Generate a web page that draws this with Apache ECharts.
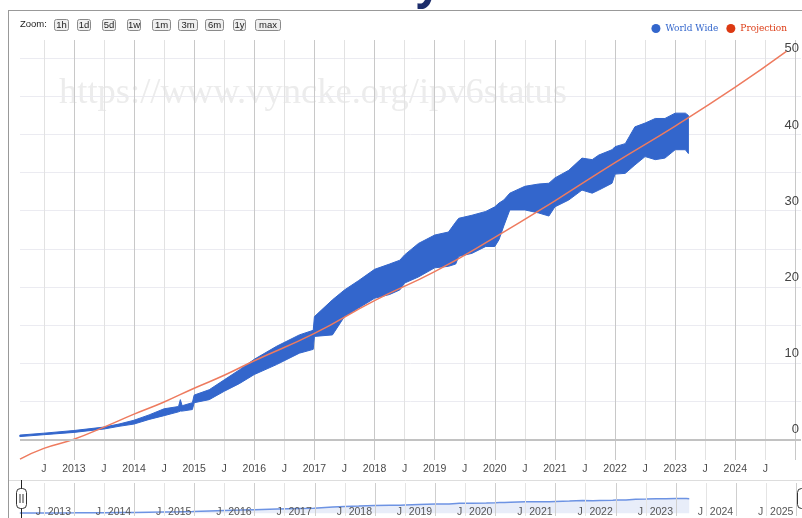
<!DOCTYPE html>
<html><head><meta charset="utf-8">
<script src="https://cdn.jsdelivr.net/npm/echarts@6/dist/echarts.min.js"></script>
<style>html,body{margin:0;padding:0;background:#fff}#c{width:802px;height:518px}</style>
</head><body><div id="c"></div>
<script>
// ---- data ----
const blueYears = [2012.10, 2012.50, 2013.00, 2013.50, 2013.75, 2014.00, 2014.25, 2014.50, 2014.74, 2014.77, 2014.80, 2014.97, 2015.00, 2015.25, 2015.50, 2015.75, 2016.00, 2016.37, 2016.75, 2016.98, 2017.00, 2017.30, 2017.50, 2017.73, 2018.00, 2018.25, 2018.42, 2018.50, 2018.73, 2019.00, 2019.23, 2019.35, 2019.40, 2019.62, 2019.85, 2020.00, 2020.07, 2020.15, 2020.25, 2020.50, 2020.73, 2020.90, 2021.00, 2021.23, 2021.45, 2021.62, 2021.73, 2021.95, 2022.00, 2022.17, 2022.33, 2022.50, 2022.67, 2022.83, 2023.00, 2023.17, 2023.22];
const blueLow = [0.35, 0.6, 0.9, 1.35, 1.7, 2.0, 2.6, 3.1, 3.6, 3.7, 3.7, 3.9, 4.8, 5.2, 6.3, 7.3, 8.5, 9.8, 11.3, 11.8, 13.5, 13.7, 16.1, 17.2, 18.5, 19.0, 19.6, 20.5, 21.3, 22.5, 22.7, 23.0, 24.0, 24.4, 25.3, 25.3, 26.2, 28.0, 30.1, 30.1, 29.7, 29.3, 30.5, 31.4, 32.7, 32.3, 32.7, 33.6, 34.8, 34.9, 36.0, 37.1, 36.7, 36.9, 38.0, 38.0, 37.5];
const blueHigh = [0.55, 0.8, 1.15, 1.6, 2.0, 2.5, 3.2, 4.0, 4.3, 5.2, 4.4, 4.8, 5.8, 6.5, 7.8, 9.1, 10.5, 12.2, 13.7, 14.3, 16.1, 18.3, 19.6, 20.8, 22.3, 23.0, 23.5, 24.2, 25.7, 26.8, 27.2, 28.5, 29.0, 29.4, 29.9, 30.5, 31.0, 31.4, 32.3, 33.2, 33.5, 33.6, 34.3, 35.3, 36.9, 36.7, 37.3, 38.0, 38.4, 38.8, 41.0, 41.5, 42.1, 42.1, 42.8, 42.8, 42.5];
const projYears = [2012.103, 2012.5, 2013, 2013.5, 2014, 2014.5, 2015, 2015.5, 2016, 2017, 2018, 2019, 2020, 2021, 2022, 2023, 2024, 2024.85];
const projValues = [-2.6, -1.2, 0.0, 1.6, 3.3, 4.9, 6.7, 8.4, 10.3, 13.9, 18.2, 22.0, 26.5, 31.3, 36.3, 41.1, 46.2, 50.9];
const yTickValues = [0, 5, 10, 15, 20, 25, 30, 35, 40, 45, 50];
const yLabelValues = [0, 10, 20, 30, 40, 50];
const xTickValues = [2012.5, 2013, 2013.5, 2014, 2014.5, 2015, 2015.5, 2016, 2016.5, 2017, 2017.5, 2018, 2018.5, 2019, 2019.5, 2020, 2020.5, 2021, 2021.5, 2022, 2022.5, 2023, 2023.5, 2024, 2024.5, 2025];
const xLabelValues = [2012.5, 2013, 2013.5, 2014, 2014.5, 2015, 2015.5, 2016, 2016.5, 2017, 2017.5, 2018, 2018.5, 2019, 2019.5, 2020, 2020.5, 2021, 2021.5, 2022, 2022.5, 2023, 2023.5, 2024, 2024.5];
const navLabelValues = [2012.5, 2013, 2013.5, 2014, 2014.5, 2015, 2015.5, 2016, 2016.5, 2017, 2017.5, 2018, 2018.5, 2019, 2019.5, 2020, 2020.5, 2021, 2021.5, 2022, 2022.5, 2023, 2023.5, 2024, 2024.5, 2025];
const seriesNames = ['World Wide', 'Projection'];
const zoomButtons = ['1h', '1d', '5d', '1w', '1m', '3m', '6m', '1y', 'max'];
const zoomLabel = 'Zoom:';
const watermarkText = 'https://www.vyncke.org/ipv6status';
const headingFragment = 'y';

// ---- chart ----
const X_MIN = 2012.103, X_MAX = 2025.093;
const BLUE = '#3366cc', RED = '#dc3912';
const fmtX = v => Math.abs(v - Math.round(v)) < 1e-6 ? String(Math.round(v)) : 'J';

const chart = echarts.init(document.getElementById('c'), null, { renderer: 'canvas' });

const btnX = [54, 77, 102, 127, 152, 178, 205, 233, 255];
const btnW = [14, 13, 13, 13, 18, 19, 18, 12, 25];
const graphics = [
  { type: 'line', shape: { x1: 8, y1: 10.5, x2: 802, y2: 10.5 }, style: { stroke: '#999', lineWidth: 1 } },
  { type: 'line', shape: { x1: 8.5, y1: 10, x2: 8.5, y2: 518 }, style: { stroke: '#999', lineWidth: 1 } },
  { type: 'text', x: 416, y: -15, style: { text: headingFragment, fontSize: 44, fontWeight: 'bold', fontFamily: 'Open Sans', fill: '#1c2d6b', verticalAlign: 'middle' } },
  { type: 'text', x: 59, y: 93, z: -1, style: { text: watermarkText, fontSize: 36.5, fontFamily: 'Liberation Serif', fill: '#ececec', verticalAlign: 'middle' } },
  { type: 'text', x: 20, y: 24.5, style: { text: zoomLabel, fontSize: 9.5, fontFamily: 'Liberation Sans', fill: '#222', verticalAlign: 'middle' } },
  { type: 'line', shape: { x1: 9, y1: 480.5, x2: 802, y2: 480.5 }, style: { stroke: '#ddd', lineWidth: 1 } },
  { type: 'line', shape: { x1: 21.5, y1: 480, x2: 21.5, y2: 518 }, style: { stroke: '#222', lineWidth: 1 }, z: 10 },
  { type: 'rect', shape: { x: 16.5, y: 488.5, width: 10, height: 20, r: 4 }, style: { fill: '#fff', stroke: '#333', lineWidth: 1 }, z: 10 },
  { type: 'line', shape: { x1: 20, y1: 494, x2: 20, y2: 503 }, style: { stroke: '#333', lineWidth: 1 }, z: 11 },
  { type: 'line', shape: { x1: 23, y1: 494, x2: 23, y2: 503 }, style: { stroke: '#333', lineWidth: 1 }, z: 11 },
  { type: 'rect', shape: { x: 797.5, y: 488.5, width: 10, height: 20, r: 4 }, style: { fill: '#fff', stroke: '#333', lineWidth: 1 }, z: 10 }
];
zoomButtons.forEach((b, i) => {
  graphics.push({ type: 'rect', shape: { x: btnX[i] + 0.5, y: 19.5, width: btnW[i], height: 11, r: 2 }, style: { fill: '#efefef', stroke: '#8a8a8a', lineWidth: 1 } });
  graphics.push({ type: 'text', x: btnX[i] + 0.5 + btnW[i] / 2, y: 25.2, style: { text: b, fontSize: 9.5, fontFamily: 'Liberation Sans', fill: '#222', align: 'center', verticalAlign: 'middle' } });
});

const option = {
  animation: false,
  backgroundColor: '#fff',
  legend: {
    right: 10, top: 19, itemWidth: 9, itemHeight: 9, itemGap: 8, icon: 'circle',
    textStyle: { fontFamily: 'DejaVu Serif', fontSize: 9 },
    data: [
      { name: seriesNames[0], itemStyle: { color: BLUE }, textStyle: { color: BLUE } },
      { name: seriesNames[1], itemStyle: { color: RED }, textStyle: { color: RED } }
    ]
  },
  grid: [
    { left: 20, right: 0, top: 40, height: 420 },
    { left: 20, right: 0, top: 483, height: 36 }
  ],
  xAxis: [
    {
      type: 'value', gridIndex: 0, min: X_MIN, max: X_MAX,
      axisLine: { show: false }, axisTick: { show: false, customValues: xTickValues },
      splitLine: { show: true, lineStyle: { color: ['#e2e2e2', '#c8c8c8'], width: 1 } },
      axisLabel: { customValues: xLabelValues, formatter: fmtX, margin: 4, fontSize: 10.5, color: '#4a4a4a', fontFamily: 'Liberation Sans' }
    },
    {
      type: 'value', gridIndex: 1, min: X_MIN, max: X_MAX, z: 5,
      axisLine: { show: false }, axisTick: { show: false, customValues: xTickValues },
      splitLine: { show: true, lineStyle: { color: ['#e4e4e4', '#cfcfcf'], width: 1 } },
      axisLabel: { customValues: navLabelValues, formatter: fmtX, inside: true, margin: -2, align: 'right', padding: [0, 3, 0, 0], fontSize: 10.5, color: '#555', fontFamily: 'Liberation Sans' }
    }
  ],
  yAxis: [
    {
      type: 'value', gridIndex: 0, position: 'right', min: -2.72, max: 52.4,
      axisLine: { show: false }, axisTick: { show: false, customValues: yTickValues },
      splitLine: { show: true, lineStyle: { color: '#ebebf1', width: 1 } },
      axisLabel: { customValues: yLabelValues, inside: true, margin: 2, verticalAlign: 'bottom', padding: [0, 0, 3, 0], fontSize: 13, color: '#444', fontFamily: 'Liberation Sans' }
    },
    { type: 'value', gridIndex: 1, min: -8, max: 88, show: false }
  ],
  series: [
    {
      type: 'custom', name: seriesNames[0], xAxisIndex: 0, yAxisIndex: 0, z: 2,
      itemStyle: { color: BLUE },
      data: blueYears.map((t, i) => [t, blueLow[i], blueHigh[i]]),
      encode: { x: 0, y: [1, 2] },
      renderItem: (params, api) => {
        if (params.dataIndex !== 0) return null;
        const top = blueYears.map((t, i) => api.coord([t, blueHigh[i]]));
        const bot = blueYears.map((t, i) => api.coord([t, blueLow[i]])).reverse();
        return { type: 'polygon', shape: { points: top.concat(bot) }, style: { fill: BLUE, stroke: BLUE, lineWidth: 1 } };
      }
    },
    {
      type: 'line', name: seriesNames[1], xAxisIndex: 0, yAxisIndex: 0, z: 3,
      data: projYears.map((t, i) => [t, projValues[i]]),
      smooth: true, symbol: 'none',
      lineStyle: { color: '#ee7b5f', width: 1.5 }, itemStyle: { color: RED },
      markLine: { silent: true, symbol: ['none', 'none'], label: { show: false }, lineStyle: { color: '#c2c2c2', width: 2, type: 'solid' }, data: [{ yAxis: 0 }] }
    },
    {
      type: 'line', name: 'overview', xAxisIndex: 1, yAxisIndex: 1, silent: true, z: 1,
      data: blueYears.map((t, i) => [t, blueHigh[i]]),
      symbol: 'none', lineStyle: { color: '#6d93e3', width: 1.5 },
      areaStyle: { color: '#e8edf9', opacity: 1 }
    }
  ],
  graphic: { elements: graphics }
};
chart.setOption(option);
</script></body></html>
